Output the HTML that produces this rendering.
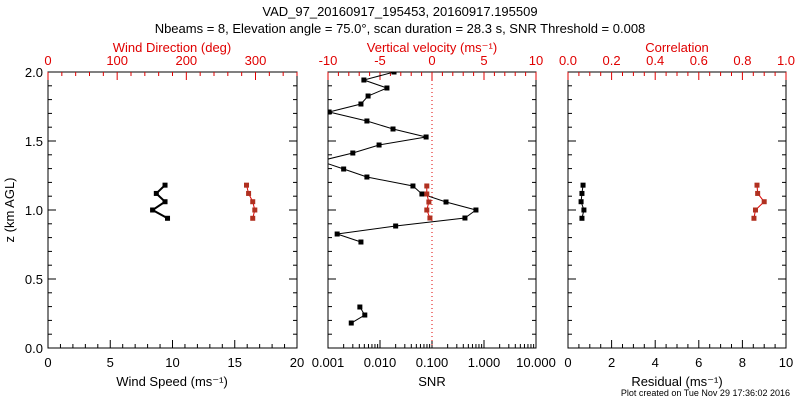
<!DOCTYPE html>
<html><head><meta charset="utf-8"><style>
body{margin:0;background:#fff}
svg text{font-family:"Liberation Sans",sans-serif;font-size:13px}
</style></head><body>
<svg id="c" width="800" height="400" xmlns="http://www.w3.org/2000/svg">
<rect width="800" height="400" fill="#fff"/>
<text x="400" y="16" text-anchor="middle">VAD_97_20160917_195453, 20160917.195509</text>
<text x="400" y="33" text-anchor="middle">Nbeams = 8, Elevation angle = 75.0°, scan duration = 28.3 s, SNR Threshold = 0.008</text>
<text x="790" y="396" text-anchor="end" style="font-size:9px">Plot created on Tue Nov 29 17:36:02 2016</text>
</svg>
<script>
const heights=[2.0,1.942,1.884,1.826,1.768,1.71,1.645,1.587,1.529,1.471,1.413,1.355,1.297,1.239,1.174,1.116,1.058,1.0,0.942,0.884,0.826,0.768];
const snr=[0.0186,0.0049,0.0136,0.0059,0.0043,0.00105,0.0056,0.0178,0.077,0.0096,0.0030,0.0007,0.0020,0.0056,0.043,0.064,0.186,0.70,0.43,0.020,0.0015,0.0043];
const heightsLow=[0.297,0.239,0.181];
const snrLow=[0.0041,0.0051,0.0028];
const windHeights=[1.18,1.12,1.06,1.0,0.94];
const windSpeed=[9.4,8.7,9.4,8.4,9.6];
const windDir=[287,290,296,299,296];
const wHeights=[1.174,1.116,1.058,1.0,0.942];
const wVel=[-0.5,-0.5,-0.3,-0.5,-0.2];
const residual=[0.69,0.64,0.6,0.73,0.64];
const correlation=[0.867,0.87,0.9,0.86,0.853];
const zTicks=['0.0','0.5','1.0','1.5','2.0'];
const wsTicks=[0,5,10,15,20], wdTicks=[0,100,200,300], vvTicks=[-10,-5,0,5,10];
const snrTicks=['0.001','0.010','0.100','1.000','10.000'];
const resTicks=[0,2,4,6,8,10], corTicks=['0.0','0.2','0.4','0.6','0.8','1.0'];

const svg=document.getElementById('c');const NS='http://www.w3.org/2000/svg';
const T=72,B=348;
const yz=z=>B-(B-T)*z/2;
function el(tag,a,name,p){const e=document.createElementNS(NS,tag);for(const k in a)e.setAttribute(k,a[k]);


(p||svg).appendChild(e);return e;}
function txt(x,y,s,name,anchor,col){const e=el('text',{x:x,y:y,'text-anchor':anchor||'middle',fill:col||'#000'},name);e.textContent=s;return e;}
function line(x1,y1,x2,y2,name,col,extra){return el('line',Object.assign({x1,y1,x2,y2,stroke:col||'#000','stroke-width':1},extra||{}),name);}
const panels=[[48,297],[328,536],[568,786]];
const clip=el('defs',{},'defs');
panels.forEach((p,i)=>{const c=el('clipPath',{id:'cp'+i},'clip',clip);el('rect',{x:p[0],y:T,width:p[1]-p[0],height:B-T},'clip-rect',c);});
panels.forEach((p,i)=>{
 el('rect',{x:p[0],y:T,width:p[1]-p[0],height:B-T,fill:'none',stroke:'#000'},'panel-frame-'+i);
 for(let k=0;k<=20;k++){const y=yz(k/10),L=k%5==0?8:4;
  line(p[0],y,p[0]+L,y,'y-tick');line(p[1],y,p[1]-L,y,'y-tick');}
});
zTicks.forEach((s,k)=>txt(43,yz(k*0.5)+5,s,'y-tick-label','end'));
const yt=txt(14,210,'z (km AGL)','y-axis-title');yt.setAttribute('transform','rotate(-90 14 210)');
function linAxis(x0,x1,v0,v1,ticks,minor,top,col,name){
 const sx=v=>x0+(x1-x0)*(v-v0)/(v1-v0);
 for(let v=v0;v<=v1+1e-9;v+=minor){const major=ticks.some(t=>Math.abs(+t-v)<1e-6);const L=major?8:4;
  if(top)line(sx(v),T,sx(v),T+L,name+'-tick',col);else line(sx(v),B,sx(v),B-L,name+'-tick',col);}
 ticks.forEach(t=>txt(sx(+t),top?T-7:B+19,String(t),name+'-label','middle',col));
 return sx;}
const red='#e00000';
const sWS=linAxis(48,297,0,20,wsTicks,1,false,'#000','wind-speed-axis');
const sWD=linAxis(48,297,0,360,wdTicks,20,true,red,'wind-dir-axis');
const sVV=linAxis(328,536,-10,10,vvTicks,1,true,red,'vvel-axis');
const sRes=linAxis(568,786,0,10,resTicks,0.5,false,'#000','residual-axis');
const sCor=linAxis(568,786,0,1,corTicks,0.05,true,red,'corr-axis');
// log axis
const sSNR=v=>328+52*(Math.log10(v)+3);
for(let d=-3;d<1;d++)for(let m=1;m<10;m++){const x=sSNR(m*Math.pow(10,d));line(x,B,x,B-(m==1?8:4),'snr-tick');}
line(536,B,536,B-8,'snr-tick');
snrTicks.forEach(s=>txt(sSNR(+s),B+19,s,'snr-label'));
txt(172,386,'Wind Speed (ms⁻¹)','x-axis-title-wind');
txt(432,386,'SNR','x-axis-title-snr');
txt(677,386,'Residual (ms⁻¹)','x-axis-title-residual');
txt(172,52,'Wind Direction (deg)','top-axis-title-direction','middle',red);
txt(432,52,'Vertical velocity (ms⁻¹)','top-axis-title-vvel','middle',red);
txt(677,52,'Correlation','top-axis-title-corr','middle',red);
line(sVV(0),T,sVV(0),B,'zero-velocity-line',red,{'stroke-dasharray':'1,3'});
function series(xs,zs,sx,col,name,ci,w){
 const g=el('g',{'clip-path':'url(#cp'+ci+')'},name);
 el('polyline',{points:xs.map((v,i)=>sx(v)+','+yz(zs[i])).join(' '),fill:'none',stroke:col,'stroke-width':w||1},name+'-line',g);
 xs.forEach((v,i)=>el('rect',{x:sx(v)-2.5,y:yz(zs[i])-2.5,width:5,height:5,fill:col=='#000'?'#000':'#b03020'},name+'-point',g));}
series(snr,heights,sSNR,'#000','snr-series',1);
series(snrLow,heightsLow,sSNR,'#000','snr-series-low',1);
series(wVel,wHeights,sVV,red,'vvel-series',1);
series(windSpeed,windHeights,sWS,'#000','wind-speed-series',0,2);
series(windDir,windHeights,sWD,red,'wind-dir-series',0);
series(residual,windHeights,sRes,'#000','residual-series',2);
series(correlation,windHeights,sCor,red,'corr-series',2);
</script>
</body></html>
